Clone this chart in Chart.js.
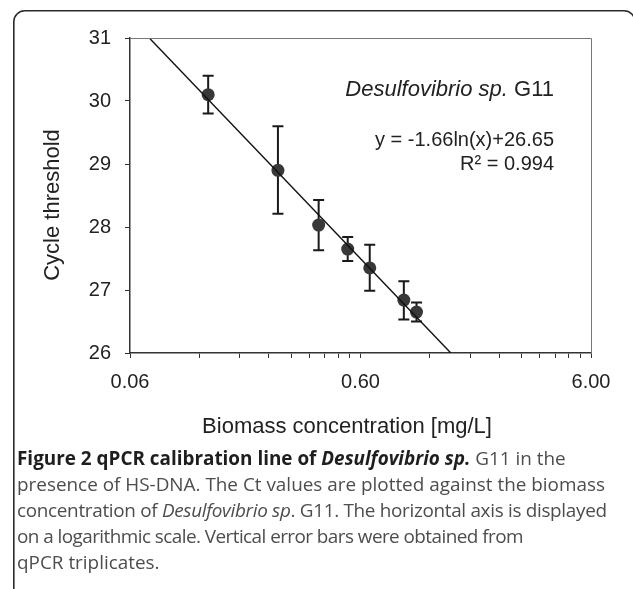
<!DOCTYPE html>
<html><head><meta charset="utf-8">
<script src="https://cdn.jsdelivr.net/npm/chart.js@4.4.1/dist/chart.umd.min.js"></script>
<style>
html,body{margin:0;padding:0;background:#fff;width:633px;height:589px;overflow:hidden;}
#wrap{position:absolute;left:0;top:0;width:633px;height:589px;}
#caption{position:absolute;left:17px;top:445px;font-family:"Open Sans";font-size:18.9px;line-height:26px;color:#4d4d4d;white-space:nowrap;}
#caption div{height:26px;}
#caption b{color:#1e1e1e;font-weight:700;}
</style></head><body>
<div id="wrap"><canvas id="c" width="633" height="589" style="width:633px;height:589px"></canvas></div>
<div id="caption">
<div><b>Figure 2 qPCR calibration line of <i>Desulfovibrio sp.</i></b> G11 in the</div>
<div>presence of HS-DNA. The Ct values are plotted against the biomass</div>
<div style="letter-spacing:-0.31px">concentration of <i>Desulfovibrio sp</i>. G11. The horizontal axis is displayed</div>
<div style="letter-spacing:-0.55px">on a logarithmic scale. Vertical error bars were obtained from</div>
<div>qPCR triplicates.</div>
</div>
<script>
// ---- data ----
const concentration = [0.131, 0.263, 0.395, 0.528, 0.658, 0.925, 1.05];   // mg/L
const ctMean = [30.10, 28.90, 28.03, 27.65, 27.35, 26.84, 26.65];
const ctLow  = [29.80, 28.21, 27.63, 27.46, 26.99, 26.53, 26.50];
const ctHigh = [30.40, 29.60, 28.43, 27.84, 27.72, 27.14, 26.80];
const xTickValues = [0.06, 0.6, 6];
const xTickLabels = ['0.06', '0.60', '6.00'];
const yTickValues = [26, 27, 28, 29, 30, 31];
const fitSlope = -1.66, fitIntercept = 26.65, fitR2 = 0.994;
const yMin = 26, yMax = 31;

// minor tick marks at k*0.06 and k*0.6 (axis structure)
const xTickMarks = [];
for (let d = 0; d < 2; d++) for (let k = 1; k <= 9; k++) xTickMarks.push(xTickValues[d] * k);
xTickMarks.push(xTickValues[2]);

// trend line from the regression, clipped to the y range
const fitX = y => Math.exp((y - fitIntercept) / fitSlope);
const trend = [{x: fitX(yMax), y: yMax}, {x: fitX(yMin), y: yMin}];

const FONT = 'Liberation Sans, Arial, sans-serif';
const INK = '#222';

const overlay = {
  id: 'overlay',
  beforeDraw(chart) {
    // outer rounded figure frame (open at right/bottom edges of the page)
    const ctx = chart.ctx;
    ctx.save();
    ctx.strokeStyle = '#2a2a2a';
    ctx.lineWidth = 1.6;
    const l = 13.8, t = 10.8, r = 635, b = 640, rad = 11;
    ctx.beginPath();
    ctx.moveTo(l, b);
    ctx.lineTo(l, t + rad);
    ctx.arcTo(l, t, l + rad, t, rad);
    ctx.lineTo(r - rad, t);
    ctx.arcTo(r, t, r, t + rad, rad);
    ctx.lineTo(r, b);
    ctx.stroke();
    ctx.restore();
  },
  beforeDatasetsDraw(chart) {
    const {ctx, scales: {x, y}} = chart;
    ctx.save();
    ctx.strokeStyle = '#1a1a1a';
    ctx.lineWidth = 2;
    const cap = 5.5;
    concentration.forEach((c, i) => {
      const px = x.getPixelForValue(c);
      const yl = y.getPixelForValue(ctLow[i]), yh = y.getPixelForValue(ctHigh[i]);
      ctx.beginPath();
      ctx.moveTo(px, yl); ctx.lineTo(px, yh);
      ctx.moveTo(px - cap, yl); ctx.lineTo(px + cap, yl);
      ctx.moveTo(px - cap, yh); ctx.lineTo(px + cap, yh);
      ctx.stroke();
    });
    ctx.restore();
  },
  afterDraw(chart) {
    const {ctx, chartArea: a} = chart;
    ctx.save();
    // plot frame top & right
    ctx.strokeStyle = '#777';
    ctx.lineWidth = 1;
    ctx.beginPath();
    ctx.moveTo(a.left, a.top + 0.5); ctx.lineTo(a.right + 0.5, a.top + 0.5); ctx.lineTo(a.right + 0.5, a.bottom);
    ctx.stroke();
    ctx.fillStyle = INK;
    // axis titles
    ctx.font = '22px ' + FONT;
    ctx.textAlign = 'center';
    ctx.textBaseline = 'alphabetic';
    ctx.fillText('Biomass concentration [mg/L]', 347, 433);
    ctx.save();
    ctx.translate(59, 205);
    ctx.rotate(-Math.PI / 2);
    ctx.fillText('Cycle threshold', 0, 0);
    ctx.restore();
    // annotation
    const right = 554;
    ctx.textAlign = 'left';
    ctx.font = 'italic 22px ' + FONT;
    const p1 = 'Desulfovibrio sp.';
    const w1 = ctx.measureText(p1).width;
    ctx.font = '22px ' + FONT;
    const p2 = ' G11';
    const w2 = ctx.measureText(p2).width;
    ctx.font = 'italic 22px ' + FONT;
    ctx.fillText(p1, right - w1 - w2, 96);
    ctx.font = '22px ' + FONT;
    ctx.fillText(p2, right - w2, 96);
    ctx.textAlign = 'right';
    ctx.font = '20px ' + FONT;
    ctx.fillText('y = ' + fitSlope.toFixed(2) + 'ln(x)+' + fitIntercept.toFixed(2), right, 146);
    ctx.fillText('R\u00B2 = ' + fitR2.toFixed(3), right, 170);
    ctx.restore();
  }
};

new Chart(document.getElementById('c'), {
  data: {
    datasets: [
      {type: 'line', data: trend, borderColor: '#111', borderWidth: 1.4, pointRadius: 0, fill: false, order: 0},
      {type: 'scatter', data: concentration.map((c, i) => ({x: c, y: ctMean[i]})),
       pointRadius: 6.5, pointBackgroundColor: '#383838', pointBorderColor: '#383838', pointBorderWidth: 0, order: 1}
    ]
  },
  options: {
    responsive: false,
    animation: false,
    devicePixelRatio: 1,
    layout: {padding: {top: 38, right: 42, left: 0, bottom: 0}},
    plugins: {legend: {display: false}, tooltip: {enabled: false}},
    scales: {
      x: {
        type: 'logarithmic', min: 0.06, max: 6,
        afterBuildTicks: s => { s.ticks = xTickMarks.map(v => ({value: v})); },
        afterFit: s => { s.height = 589 - 353; },
        ticks: {
          autoSkip: false, maxRotation: 0, padding: 12, color: INK,
          font: {family: FONT, size: 20},
          callback: v => {
            const i = xTickValues.findIndex(t => Math.abs(t - v) / t < 1e-6);
            return i >= 0 ? xTickLabels[i] : '';
          }
        },
        grid: {drawOnChartArea: false, tickLength: 5, color: '#333', lineWidth: 1},
        border: {color: '#333', width: 1.5}
      },
      y: {
        min: yMin, max: yMax,
        afterBuildTicks: s => { s.ticks = yTickValues.map(v => ({value: v})); },
        afterFit: s => { s.width = 130; },
        ticks: {padding: 14, color: INK, font: {family: FONT, size: 20}},
        grid: {drawOnChartArea: false, tickLength: 5, color: '#333', lineWidth: 1},
        border: {color: '#333', width: 1.5}
      }
    }
  },
  plugins: [overlay]
});
</script>
</body></html>
